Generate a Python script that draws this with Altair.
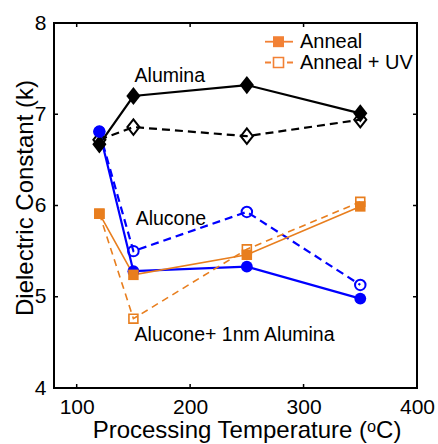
import altair as alt
import pandas as pd

# ---------------- data ----------------
temps = [120, 150, 250, 350]
alumina_anneal = [6.67, 7.20, 7.32, 7.01]
alumina_uv = [6.72, 6.86, 6.76, 6.94]
alucone_anneal = [6.81, 5.28, 5.33, 4.98]
alucone_uv = [6.81, 5.50, 5.93, 5.13]
hybrid_anneal = [5.91, 5.24, 5.46, 5.99]
hybrid_uv = [5.91, 4.76, 5.52, 6.04]

x_ticks = [100, 200, 300, 400]
y_ticks = [4, 5, 6, 7, 8]
legend_labels = ["Anneal", "Anneal + UV"]
annot_labels = ["Alumina", "Alucone", "Alucone+ 1nm Alumina"]
annot_temp = [151, 152, 151]
annot_k = [7.35, 5.79, 4.51]

series = [
    ("Alumina Anneal", alumina_anneal),
    ("Alumina UV", alumina_uv),
    ("Alucone Anneal", alucone_anneal),
    ("Alucone UV", alucone_uv),
    ("Hybrid Anneal", hybrid_anneal),
    ("Hybrid UV", hybrid_uv),
]
rows = []
for name, vals in series:
    for t, v in zip(temps, vals):
        rows.append({"temp": t, "k": v, "series": name})
df = pd.DataFrame(rows)

# ---------------- styles ----------------
FONT = "Liberation Sans"
BLUE = "#0000FF"
ORANGE = "#E87E1E"
ORANGE_LEG = "#F28135"
DIAMOND = "M0,-1L0.78,0L0,1L-0.78,0Z"

styles = {
    "Alumina UV": dict(color="black", dash=[8, 5], shape=DIAMOND, filled=False, size=240, lw=2.2),
    "Alumina Anneal": dict(color="black", dash=None, shape=DIAMOND, filled=True, size=330, lw=2.2),
    "Alucone UV": dict(color=BLUE, dash=[8, 5], shape="circle", filled=False, size=110, lw=2.2),
    "Alucone Anneal": dict(color=BLUE, dash=None, shape="circle", filled=True, size=140, lw=2.2),
    "Hybrid UV": dict(color=ORANGE, dash=[7, 5], shape="square", filled=False, size=80, lw=1.6),
    "Hybrid Anneal": dict(color=ORANGE, dash=None, shape="square", filled=True, size=110, lw=1.6),
}

W, H = 363, 365

x_axis = alt.Axis(
    values=x_ticks, format="d", title="Processing Temperature (ᵒC)",
    grid=False, domain=False, ticks=False,
    labelFontSize=21, labelPadding=8, labelFlush=False, labelOverlap=False,
    labelColor="black", labelFont=FONT,
    titleFontSize=24, titleFontWeight="normal", titleColor="black", titleFont=FONT,
    titleX=192.5, titleY=49, titleBaseline="alphabetic", titleAlign="center",
)
y_axis = alt.Axis(
    values=y_ticks, format="d", title="Dielectric Constant (k)",
    grid=False, domain=False, ticks=False,
    labelFontSize=21, labelPadding=8, labelOverlap=False,
    labelColor="black", labelFont=FONT,
    titleFontSize=24, titleFontWeight="normal", titleColor="black", titleFont=FONT,
    titleX=-22, titleY=174.5, titleBaseline="alphabetic", titleAlign="center", titleAngle=270,
)
X = alt.X("temp:Q", scale=alt.Scale(domain=[80, 400], nice=False, zero=False), axis=x_axis)
Y = alt.Y("k:Q", scale=alt.Scale(domain=[4, 8], nice=False, zero=False), axis=y_axis)

layers = []

# inward ticks on all four sides
xt = alt.Chart(pd.DataFrame({"temp": x_ticks}))
yt = alt.Chart(pd.DataFrame({"k": y_ticks}))
layers.append(xt.mark_rule(color="black", strokeWidth=1.5).encode(x=X, y=alt.value(H), y2=alt.value(H - 4)))
layers.append(xt.mark_rule(color="black", strokeWidth=1.5).encode(x=X, y=alt.value(0), y2=alt.value(4)))
layers.append(yt.mark_rule(color="black", strokeWidth=1.5).encode(y=Y, x=alt.value(0), x2=alt.value(4)))
layers.append(yt.mark_rule(color="black", strokeWidth=1.5).encode(y=Y, x=alt.value(W), x2=alt.value(W - 4)))

base = alt.Chart(df)
order = ["Alumina UV", "Alumina Anneal", "Alucone UV", "Alucone Anneal", "Hybrid UV", "Hybrid Anneal"]
for name in order:
    s = styles[name]
    line_kw = dict(color=s["color"], strokeWidth=s["lw"])
    if s["dash"]:
        line_kw["strokeDash"] = s["dash"]
    layers.append(
        base.transform_filter(alt.datum.series == name).mark_line(**line_kw).encode(x=X, y=Y)
    )
for name in order:
    s = styles[name]
    if s["filled"]:
        pm = dict(shape=s["shape"], filled=True, color=s["color"], size=s["size"], opacity=1)
    else:
        pm = dict(shape=s["shape"], filled=False, color=s["color"], size=s["size"],
                  strokeWidth=2 if s["color"] != ORANGE else 1.6, opacity=1)
    layers.append(
        base.transform_filter(alt.datum.series == name).mark_point(**pm).encode(x=X, y=Y)
    )

# annotations
ann = alt.Chart(pd.DataFrame({"temp": annot_temp, "k": annot_k, "label": annot_labels}))
layers.append(
    ann.mark_text(align="left", baseline="alphabetic", fontSize=19.5, font=FONT, color="black")
    .encode(x=X, y=Y, text="label:N")
)

# legend (manual)
leg_y = [18.7, 39.5]
for i, lab in enumerate(legend_labels):
    ld = alt.Chart(pd.DataFrame({"label": [lab]}))
    if i == 0:
        layers.append(ld.mark_rule(color=ORANGE_LEG, strokeWidth=1.8).encode(
            x=alt.value(211), x2=alt.value(239), y=alt.value(leg_y[i])))
        layers.append(ld.mark_point(shape="square", filled=True, color=ORANGE_LEG, size=120, opacity=1).encode(
            x=alt.value(224.5), y=alt.value(leg_y[i])))
    else:
        layers.append(ld.mark_rule(color=ORANGE_LEG, strokeWidth=1.8, strokeDash=[6, 16, 6]).encode(
            x=alt.value(211), x2=alt.value(239), y=alt.value(leg_y[i])))
        layers.append(ld.mark_point(shape="square", filled=False, color=ORANGE_LEG, size=100,
                                    strokeWidth=1.6, opacity=1).encode(
            x=alt.value(224.5), y=alt.value(leg_y[i])))
    layers.append(ld.mark_text(align="left", baseline="middle", fontSize=20, font=FONT, color="black").encode(
        x=alt.value(246), y=alt.value(leg_y[i]), text="label:N"))

chart = (
    alt.layer(*layers)
    .properties(width=W, height=H, autosize=alt.AutoSizeParams(type="none"),
                padding={"left": 54, "top": 23, "right": 21, "bottom": 56},
                background="white")
    .configure_view(stroke="black", strokeWidth=2)
)

chart.save("out.html", embed_options={"renderer": "svg", "actions": False})
